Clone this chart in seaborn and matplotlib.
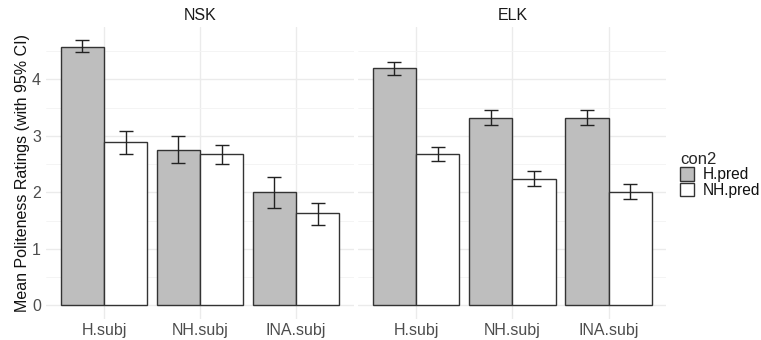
import matplotlib
matplotlib.use("Agg")
import matplotlib.pyplot as plt
import seaborn as sns
import pandas as pd
import numpy as np
from matplotlib.patches import Patch
from matplotlib.ticker import MultipleLocator

panels = ["NSK", "ELK"]
subjects = ["H.subj", "NH.subj", "INA.subj"]
preds = ["H.pred", "NH.pred"]

# means, lower CI, upper CI per panel: [H.pred x subjects], [NH.pred x subjects]
nsk_h_mean = [4.58, 2.75, 2.00]
nsk_h_lo = [4.48, 2.52, 1.72]
nsk_h_hi = [4.69, 2.99, 2.27]
nsk_nh_mean = [2.89, 2.67, 1.635]
nsk_nh_lo = [2.68, 2.51, 1.43]
nsk_nh_hi = [3.09, 2.83, 1.82]

elk_h_mean = [4.195, 3.32, 3.32]
elk_h_lo = [4.08, 3.19, 3.19]
elk_h_hi = [4.31, 3.45, 3.46]
elk_nh_mean = [2.685, 2.24, 2.01]
elk_nh_lo = [2.555, 2.11, 1.89]
elk_nh_hi = [2.81, 2.37, 2.15]

rows = []
for panel, hm, hl, hh, nm, nl, nh in [
    ("NSK", nsk_h_mean, nsk_h_lo, nsk_h_hi, nsk_nh_mean, nsk_nh_lo, nsk_nh_hi),
    ("ELK", elk_h_mean, elk_h_lo, elk_h_hi, elk_nh_mean, elk_nh_lo, elk_nh_hi),
]:
    for i, s in enumerate(subjects):
        rows.append(dict(panel=panel, subj=s, con2="H.pred", mean=hm[i], lo=hl[i], hi=hh[i]))
        rows.append(dict(panel=panel, subj=s, con2="NH.pred", mean=nm[i], lo=nl[i], hi=nh[i]))
df = pd.DataFrame(rows)

sns.set_theme(style="white")
plt.rcParams["font.family"] = ["Liberation Sans", "DejaVu Sans"]

W, H = 761, 340
fig = plt.figure(figsize=(W / 100, H / 100), dpi=100)

fill_colors = {"H.pred": "#BEBEBE", "NH.pred": "#FFFFFF"}
edge = "#333333"
ymin, ymax = -0.235, 4.925
panel_top, panel_bot = 27, 318.7
px = [(46.4, 353.6), (358.4, 666.3)]

for k, panel in enumerate(panels):
    x0, x1 = px[k]
    ax = fig.add_axes([x0 / W, 1 - panel_bot / H, (x1 - x0) / W, (panel_bot - panel_top) / H])
    sub = df[df.panel == panel]
    sns.barplot(data=sub, x="subj", y="mean", hue="con2", order=subjects, hue_order=preds,
                palette=fill_colors, edgecolor=edge, linewidth=1.0, width=0.9,
                errorbar=None, legend=False, ax=ax, zorder=3)
    # error bars at bar centers
    for j, pred in enumerate(preds):
        cont = ax.containers[j]
        for bar, s in zip(cont, subjects):
            r = sub[(sub.subj == s) & (sub.con2 == pred)].iloc[0]
            xc = bar.get_x() + bar.get_width() / 2
            ax.errorbar(xc, r["mean"], yerr=[[r["mean"] - r["lo"]], [r["hi"] - r["mean"]]],
                        fmt="none", ecolor="#222222", elinewidth=1.0, capsize=5.2, capthick=1.0, zorder=4)
    ax.set_xlim(-0.6, 2.6)
    ax.set_ylim(ymin, ymax)
    ax.yaxis.set_major_locator(MultipleLocator(1))
    ax.yaxis.set_minor_locator(MultipleLocator(0.5))
    ax.grid(True, which="major", axis="both", color="#EBEBEB", linewidth=1.0, zorder=0)
    ax.grid(True, which="minor", axis="y", color="#F3F3F3", linewidth=0.6, zorder=0)
    ax.set_axisbelow(True)
    for sp in ax.spines.values():
        sp.set_visible(False)
    ax.tick_params(axis="both", which="both", length=0, labelsize=11.5, labelcolor="#4D4D4D")
    ax.tick_params(axis="x", pad=3)
    ax.tick_params(axis="y", pad=4)
    ax.set_xlabel("")
    ax.set_title(panel, fontsize=11.5, color="#1A1A1A", pad=5)
    if k == 0:
        ax.set_ylabel("Mean Politeness Ratings (with 95% CI)", fontsize=11.5, color="#111111", labelpad=1)
    else:
        ax.set_ylabel("")
        ax.set_yticklabels([])

handles = [Patch(facecolor=fill_colors[p], edgecolor=edge, linewidth=1.0, label=p) for p in preds]
leg = fig.legend(handles=handles, title="con2", loc="upper left",
                 bbox_to_anchor=(680 / W, 1 - 152 / H), frameon=False, borderpad=0,
                 fontsize=11.2, title_fontsize=12, handlelength=0.9, handleheight=0.95,
                 handletextpad=0.55, labelspacing=0.02, borderaxespad=0)
leg._legend_box.align = "left"
for t in leg.get_texts():
    t.set_color("#111111")

fig.savefig("out.png", dpi=100)
